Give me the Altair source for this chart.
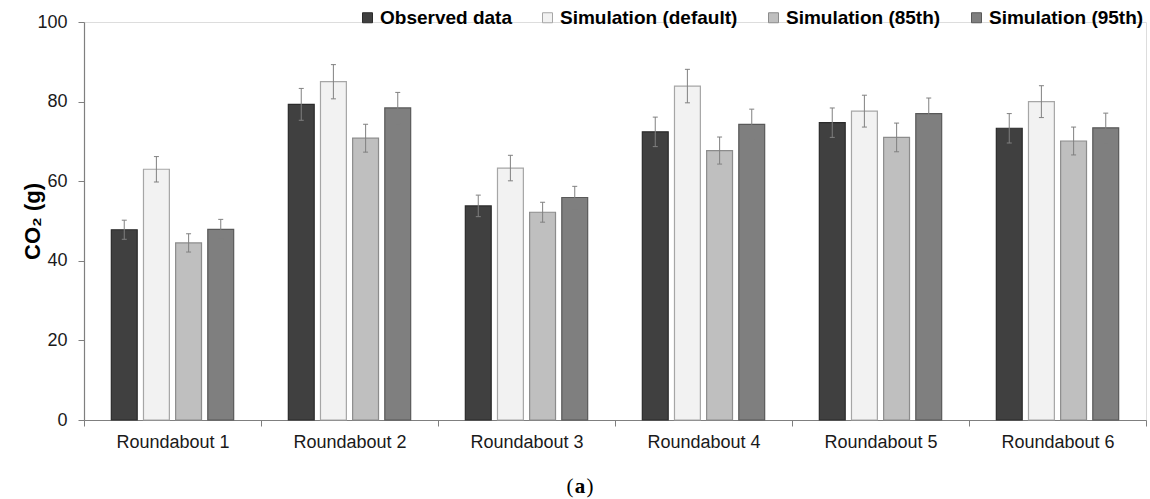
import altair as alt
import pandas as pd

# Roundabouts on the x axis, one bar per data source
roundabouts = ["Roundabout 1", "Roundabout 2", "Roundabout 3",
               "Roundabout 4", "Roundabout 5", "Roundabout 6"]
series = ["Observed data", "Simulation (default)",
          "Simulation (85th)", "Simulation (95th)"]

# Mean CO2 per roundabout (g)
observed = [47.8, 79.3, 53.8, 72.4, 74.7, 73.3]
sim_default = [63.0, 85.0, 63.3, 83.9, 77.6, 80.0]
sim_85th = [44.5, 70.8, 52.2, 67.7, 71.0, 70.1]
sim_95th = [47.9, 78.4, 55.9, 74.3, 77.0, 73.4]

# Half-width of the error bars (g)
err_observed = [2.4, 4.0, 2.7, 3.7, 3.7, 3.7]
err_default = [3.2, 4.3, 3.2, 4.2, 4.0, 4.0]
err_85th = [2.3, 3.5, 2.5, 3.4, 3.6, 3.5]
err_95th = [2.5, 3.9, 2.8, 3.8, 3.9, 3.7]

fills = ["#404040", "#f2f2f2", "#bfbfbf", "#7f7f7f"]
strokes = ["#2b2b2b", "#a6a6a6", "#8c8c8c", "#595959"]

rows = []
for s, vals, errs in zip(series,
                         [observed, sim_default, sim_85th, sim_95th],
                         [err_observed, err_default, err_85th, err_95th]):
    for r, v, e in zip(roundabouts, vals, errs):
        rows.append({"roundabout": r, "series": s, "co2": v,
                     "lo": v - e, "hi": v + e})
df = pd.DataFrame(rows)

FONT = "Liberation Sans"

x_enc = alt.X("roundabout:N", sort=roundabouts, title=None,
              scale=alt.Scale(paddingInner=0, paddingOuter=0),
              axis=alt.Axis(tickBand="extent", labelAngle=0, labelFont=FONT,
                            labelFontSize=18, labelColor="#1a1a1a",
                            labelPadding=7, tickSize=6, tickColor="#7f7f7f",
                            domainColor="#7f7f7f", domainWidth=1.2))
xoff_enc = alt.XOffset("series:N", sort=series,
                       scale=alt.Scale(paddingInner=0.195, paddingOuter=0.85))

base = alt.Chart(df)

bars = base.mark_bar(strokeWidth=1.2).encode(
    x=x_enc,
    xOffset=xoff_enc,
    y=alt.Y("co2:Q", title="CO₂ (g)",
            scale=alt.Scale(domain=[0, 100]),
            axis=alt.Axis(values=[0, 20, 40, 60, 80, 100], grid=False,
                          labelFont=FONT, labelFontSize=18,
                          labelColor="#1a1a1a", labelPadding=11,
                          tickSize=6, tickColor="#7f7f7f",
                          domainColor="#7f7f7f", domainWidth=1.2,
                          titleFont=FONT, titleFontSize=22,
                          titleFontWeight="bold", titleColor="#000000",
                          titleX=-52, titleY=199, titleAngle=-90,
                          titleAlign="center", titleBaseline="middle")),
    fill=alt.Fill("series:N", sort=series,
                  scale=alt.Scale(domain=series, range=fills),
                  legend=alt.Legend(title=None, orient="none", legendX=274,
                                    legendY=-14, direction="horizontal",
                                    columns=4, columnPadding=26,
                                    symbolType="square", symbolSize=100,
                                    symbolStrokeColor="#8c8c8c",
                                    symbolStrokeWidth=1, labelOffset=3,
                                    labelFont=FONT, labelFontSize=19,
                                    labelFontWeight="bold",
                                    labelColor="#000000", labelLimit=300)),
    stroke=alt.Stroke("series:N", sort=series,
                      scale=alt.Scale(domain=series, range=strokes),
                      legend=None),
)

whiskers = base.mark_rule(color="#808080", strokeWidth=1.1, opacity=0.9).encode(
    x=x_enc, xOffset=xoff_enc, y="lo:Q", y2="hi:Q")

caps_hi = base.mark_tick(color="#808080", thickness=1.1, size=5,
                         opacity=0.9).encode(
    x=x_enc, xOffset=xoff_enc, y="hi:Q")
caps_lo = base.mark_tick(color="#808080", thickness=1.1, size=5,
                         opacity=0.9).encode(
    x=x_enc, xOffset=xoff_enc, y="lo:Q")

# Panel label under the axis
cap_df = pd.DataFrame({"t": ["x"]})
paren_l = alt.Chart(cap_df).mark_text(text="(", font="Liberation Serif",
                                      fontSize=21, baseline="middle").encode(
    x=alt.value(486), y=alt.value(465))
letter = alt.Chart(cap_df).mark_text(text="a", font="Liberation Serif",
                                     fontSize=21, fontWeight="bold",
                                     baseline="middle").encode(
    x=alt.value(496), y=alt.value(465))
paren_r = alt.Chart(cap_df).mark_text(text=")", font="Liberation Serif",
                                      fontSize=21, baseline="middle").encode(
    x=alt.value(506), y=alt.value(465))

chart = alt.layer(bars, whiskers, caps_hi, caps_lo, paren_l, letter, paren_r).properties(
    width=1062, height=398,
    autosize=alt.AutoSizeParams(type="none"),
    padding={"left": 84, "top": 22, "right": 4, "bottom": 79},
).configure_view(stroke=None).configure(background="#ffffff")

chart.save("out.html", embed_options={"renderer": "svg", "actions": False})
